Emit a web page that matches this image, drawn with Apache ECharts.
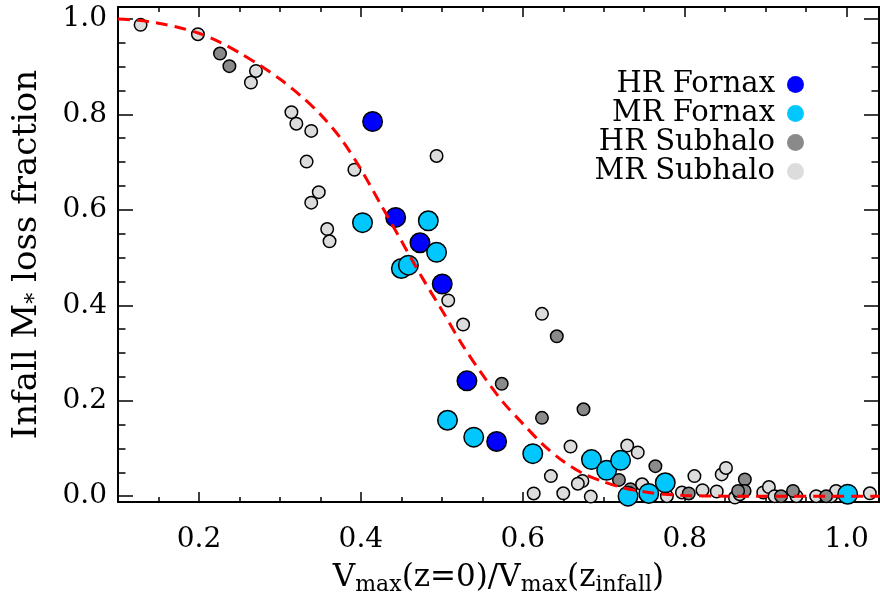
<!DOCTYPE html>
<html>
<head>
<meta charset="utf-8">
<script src="https://cdn.jsdelivr.net/npm/echarts@6/dist/echarts.min.js"></script>
<style>html,body{margin:0;padding:0;background:#fff}#c{width:880px;height:601px}</style>
</head>
<body>
<div id="c"></div>
<script>
const seriesNames = ['HR Fornax', 'MR Fornax', 'HR Subhalo', 'MR Subhalo'];

const hrFornax = [[0.4145,0.785],[0.443,0.584],[0.473,0.531],[0.5005,0.4445],[0.531,0.2416],[0.5677,0.1145]];

const mrFornax = [[0.402,0.573],[0.4833,0.577],[0.4935,0.511],[0.450,0.477],[0.4587,0.484],[0.507,0.159],
  [0.5394,0.1236],[0.6123,0.089],[0.6848,0.0766],[0.7036,0.054],[0.7208,0.075],[0.730,0.0],
  [0.7556,0.0056],[0.776,0.028],[1.0013,0.004]];

const hrSubhalo = [[0.226,0.9275],[0.2376,0.901],[0.642,0.335],[0.574,0.2354],[0.675,0.182],[0.6237,0.164],
  [0.7188,0.034],[0.7638,0.0628],[0.733,0.0145],[0.805,0.0056],[0.8743,0.035],[0.874,0.011],[0.866,0.011],
  [0.9338,0.011],[0.919,0.0],[0.9747,0.0]];

const mrSubhalo = [[0.1279,0.9876],[0.1987,0.968],[0.2704,0.891],[0.2642,0.8668],[0.3142,0.8047],[0.3203,0.7805],
  [0.3387,0.7654],[0.333,0.701],[0.392,0.684],[0.348,0.637],[0.3387,0.615],[0.3584,0.5597],[0.3613,0.534],
  [0.4935,0.7128],[0.5079,0.41],[0.5263,0.3596],[0.6237,0.382],[0.659,0.104],[0.729,0.106],[0.742,0.0917],
  [0.6347,0.042],[0.6737,0.0317],[0.668,0.026],[0.6135,0.0056],[0.650,0.006],[0.684,-0.001],[0.7474,0.0248],
  [0.778,0.0],[0.7966,0.0077],[0.812,0.042],[0.822,0.0124],[0.8396,0.0097],[0.8457,0.0455],[0.851,0.059],
  [0.862,-0.003],[0.868,0.004],[0.897,0.0077],[0.904,0.019],[0.911,0.0],[0.938,0.0],[0.9624,0.0],
  [0.981,0.0],[0.987,0.011],[1.0287,0.006]];

const curveX = [0.100,0.125,0.150,0.175,0.200,0.225,0.250,0.275,0.300,0.325,0.350,0.375,0.400,0.425,0.450,
  0.475,0.500,0.525,0.550,0.575,0.600,0.625,0.650,0.675,0.700,0.725,0.750,0.775,0.800,0.850,1.040];
const curveY = [1.000,0.997,0.991,0.982,0.970,0.952,0.929,0.903,0.874,0.840,0.800,0.750,0.685,0.610,0.535,
  0.460,0.390,0.318,0.255,0.198,0.152,0.108,0.073,0.047,0.030,0.017,0.009,0.004,0.0015,0.000,0.000];

const xMajor = [0.2,0.4,0.6,0.8,1.0];
const xMinor = [0.15,0.25,0.3,0.35,0.45,0.5,0.55,0.65,0.7,0.75,0.85,0.9,0.95];
const yMajor = [0.0,0.2,0.4,0.6,0.8,1.0];
const yMinor = [0.05,0.1,0.15,0.25,0.3,0.35,0.45,0.5,0.55,0.65,0.7,0.75,0.85,0.9,0.95];

const FONT = 'DejaVu Serif';
const XMIN = 0.1, XMAX = 1.04, YMIN = -0.0125, YMAX = 1.025;

function xAx(pos, vals, len, major, lineShow){
  return {type:'value', min:XMIN, max:XMAX, position:pos, scale:false,
    axisLine:{show:lineShow, onZero:false, lineStyle:{color:'#000', width:2}},
    axisTick:{show:true, inside:true, length:len, customValues:vals, lineStyle:{color:'#000', width:1.5}},
    axisLabel:{show:major && pos==='bottom', customValues:xMajor, margin:24,
      formatter:(v)=>v.toFixed(1), fontFamily:FONT, fontSize:28, color:'#000'},
    splitLine:{show:false}};
}
function yAx(pos, vals, len, major, lineShow){
  return {type:'value', min:YMIN, max:YMAX, position:pos,
    axisLine:{show:lineShow, onZero:false, lineStyle:{color:'#000', width:2}},
    axisTick:{show:true, inside:true, length:len, customValues:vals, lineStyle:{color:'#000', width:1.5}},
    axisLabel:{show:major && pos==='left', customValues:yMajor, margin:11,
      formatter:(v)=>v.toFixed(1), fontFamily:FONT, fontSize:28, color:'#000'},
    splitLine:{show:false}};
}

const xAxes = [xAx('bottom', xMajor, 10, true, true), xAx('bottom', xMinor, 5, false, false),
  xAx('top', xMajor, 10, true, true), xAx('top', xMinor, 5, false, false)];
xAxes[0].name = 'V{s|max}(z=0)/V{s|max}(z{s|infall})';
xAxes[0].nameLocation = 'middle';
xAxes[0].nameGap = 52;
xAxes[0].nameTextStyle = {fontFamily:FONT, fontSize:31, color:'#000', lineHeight:36,
  rich:{s:{fontFamily:FONT, fontSize:22, color:'#000', lineHeight:22, padding:[15,0,0,0]}}};

const yAxes = [yAx('left', yMajor, 15, true, true), yAx('left', yMinor, 7.5, false, false),
  yAx('right', yMajor, 15, true, true), yAx('right', yMinor, 7.5, false, false)];
yAxes[0].name = 'Infall M{s|*} loss fraction';
yAxes[0].nameLocation = 'middle';
yAxes[0].nameRotate = 90;
yAxes[0].nameGap = 72;
yAxes[0].nameTextStyle = {fontFamily:FONT, fontSize:34, color:'#000', lineHeight:38,
  rich:{s:{fontFamily:FONT, fontSize:22, color:'#000', lineHeight:22, padding:[16,0,0,0]}}};

function scat(name, data, color, size, z){
  return {name, type:'scatter', data, symbol:'circle', symbolSize:size, z,
    xAxisIndex:0, yAxisIndex:0,
    itemStyle:{color, borderColor:'#000', borderWidth:1.5, opacity:1}};
}

const chart = echarts.init(document.getElementById('c'), null, {renderer:'canvas'});
chart.setOption({
  animation:false,
  backgroundColor:'#fff',
  grid:{left:118, right:1, top:7, bottom:93, containLabel:false},
  xAxis:xAxes,
  yAxis:yAxes,
  legend:{data:seriesNames, orient:'vertical', right:71, top:65, align:'right', icon:'circle',
    itemWidth:17, itemHeight:17, itemGap:0, selectedMode:false,
    itemStyle:{borderWidth:0},
    textStyle:{fontFamily:FONT, fontSize:29, color:'#000', lineHeight:29, padding:[0,7,0,0]}},
  series:[
    scat('MR Subhalo', mrSubhalo, '#dcdcdc', 12.5, 2),
    scat('HR Subhalo', hrSubhalo, '#8a8a8a', 12.5, 3),
    scat('HR Fornax', hrFornax, '#0000ff', 19.5, 4),
    scat('MR Fornax', mrFornax, '#00c8ff', 19.5, 5),
    {name:'curve', type:'line', xAxisIndex:0, yAxisIndex:0, z:6, symbol:'none', smooth:0.3,
      data:curveX.map((x,i)=>[x,curveY[i]]),
      lineStyle:{color:'#ff0000', width:3, type:[12,7]}}
  ]
});
</script>
</body>
</html>
